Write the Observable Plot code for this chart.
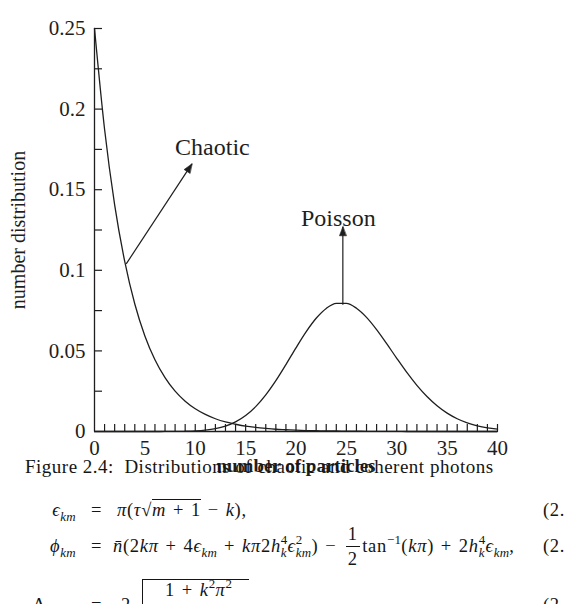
<!DOCTYPE html>
<html>
<head>
<meta charset="utf-8">
<script src="https://cdn.jsdelivr.net/npm/d3@7"></script>
<script src="https://cdn.jsdelivr.net/npm/@observablehq/plot@0.6"></script>
<style>
  html, body { margin: 0; padding: 0; background: #fff; }
  #page { position: relative; width: 568px; height: 604px; overflow: hidden; background: #fff; color: #151515; }
  #chart { position: absolute; left: 0; top: 0; }
  .cap { position: absolute; left: 25px; top: 451.6px; font-family: "Liberation Serif", serif; font-size: 19px;
         line-height: 30px; white-space: nowrap; letter-spacing: 0.5px; color: #151515; }
  .eq { position: absolute; white-space: nowrap; font-family: "Liberation Serif", "DejaVu Serif", serif;
        font-size: 18.5px; line-height: 50px; letter-spacing: 0.7px; word-spacing: 1.5px; color: #151515; }
  .eq i { font-style: italic; }
  .sb { font-size: 0.7em; vertical-align: -0.36em; line-height: 0; letter-spacing: 0.3px; }
  .sp { font-size: 0.7em; vertical-align: 0.62em; line-height: 0; letter-spacing: 0.3px; }
  .st { display: inline-block; font-size: 0.7em; line-height: 1em; vertical-align: -0.36em; text-align: left; letter-spacing: 0.3px; }
  .st > span { display: block; }
  .frac { display: inline-block; line-height: 1.3em; vertical-align: -0.68em; text-align: center; margin: 0 0.15em; }
  .frac > span { display: block; padding: 0 0.1em; }
  .frac > .num { border-bottom: 1px solid #151515; }
  .ol { border-top: 1px solid #151515; }
  .rad { position: absolute; border-left: 1.2px solid #151515; border-top: 1px solid #151515; }
</style>
</head>
<body>
<div id="page">
  <div id="chart"></div>
  <div class="cap">Figure 2.4:&nbsp; Distributions of chaotic and coherent photons</div>

  <!-- equation line 1 -->
  <div class="eq" style="right:492px; top:485px;"><i>ϵ</i><span class="sb"><i>km</i></span></div>
  <div class="eq" style="left:91px; top:485px;">=</div>
  <div class="eq" style="left:117px; top:485px;"><i>π</i>(<i>τ</i>√<span class="ol"><i>m</i> + 1</span> − <i>k</i>),</div>
  <div class="eq" style="left:543px; top:485px;">(2.</div>

  <!-- equation line 2 -->
  <div class="eq" style="right:492px; top:521px;"><i>ϕ</i><span class="sb"><i>km</i></span></div>
  <div class="eq" style="left:91px; top:521px;">=</div>
  <div class="eq" style="left:113px; top:521px;"><i>n̄</i>(2<i>kπ</i> + 4<i>ϵ</i><span class="sb"><i>km</i></span> + <i>kπ</i>2<i>h</i><span class="st"><span>4</span><span><i>k</i></span></span><i>ϵ</i><span class="st"><span>2</span><span><i>km</i></span></span>) − <span class="frac"><span class="num">1</span><span>2</span></span>tan<span class="sp">−1</span>(<i>kπ</i>) + 2<i>h</i><span class="st"><span>4</span><span><i>k</i></span></span><i>ϵ</i><span class="sb"><i>km</i></span>,</div>
  <div class="eq" style="left:543px; top:521px;">(2.</div>

  <!-- equation line 3 (cut off by the page edge) -->
  <div class="eq" style="left:33px; top:580px;">Δ<span class="sb"><i>km</i></span></div>
  <div class="eq" style="left:91px; top:580px;">=</div>
  <div class="eq" style="left:121px; top:580px;">2</div>
  <div class="rad" style="left:142px; top:579px; width:106px; height:40px;"></div>
  <div class="eq" style="left:165px; top:565px;">1 + <i>k</i><span class="sp">2</span><i>π</i><span class="sp">2</span></div>
  <div class="eq" style="left:543px; top:580px;">(2.</div>
</div>

<script>
// ---- data ----
const nValues = [0,1,2,3,4,5,6,7,8,9,10,11,12,13,14,15,16,17,18,19,20,
                 21,22,23,24,25,26,27,28,29,30,31,32,33,34,35,36,37,38,39,40];
const chaotic = [0.2500,0.1875,0.1406,0.1055,0.0791,0.0593,0.0445,0.0334,0.0250,0.0188,
                 0.0141,0.0106,0.0079,0.0059,0.0045,0.0033,0.0025,0.0019,0.0014,0.0011,
                 0.0008,0.0006,0.0005,0.0003,0.0003,0.0002,0.0002,0.0001,0.0001,0.0001,
                 0.0001,0,0,0,0,0,0,0,0,0,0];
const poisson = [0,0,0,0,0,0,0,0.00002,0.00005,0.00015,
                 0.00036,0.00083,0.00173,0.00332,0.00593,0.00989,0.01545,0.02273,0.03157,0.04153,
                 0.05192,0.06180,0.07023,0.07634,0.07952,0.07952,0.07646,0.07080,0.06321,0.05449,
                 0.04541,0.03662,0.02861,0.02167,0.01594,0.01138,0.00791,0.00534,0.00351,0.00225,
                 0.00141];

const xTickValues = [0,5,10,15,20,25,30,35,40];
const xMinorTicks = [1,2,3,4,5,6,7,8,9,10,11,12,13,14,15,16,17,18,19,20,
                     21,22,23,24,25,26,27,28,29,30,31,32,33,34,35,36,37,38,39,40];
const yTickValues = [0,0.05,0.1,0.15,0.2,0.25];
const yTickLabels = ["0","0.05","0.1","0.15","0.2","0.25"];
const yMinorTicks = [0.025,0.05,0.075,0.1,0.125,0.15,0.175,0.2,0.225,0.25];

const labelNames = ["Chaotic","Poisson"];
const labelX = [11.7, 24.2];
const labelY = [0.176, 0.132];
const arrowX1 = [3.15, 24.65];
const arrowY1 = [0.104, 0.0787];
const arrowX2 = [9.67, 24.65];
const arrowY2 = [0.166, 0.127];

const xAxisLabel = "number of particles";
const yAxisLabel = "number distribution";

// ---- build tables ----
const chaoticRows = nValues.map((n, i) => ({n, p: chaotic[i]}));
const poissonRows = nValues.map((n, i) => ({n, p: poisson[i]}));
const labels = labelNames.map((t, i) => ({t, x: labelX[i], y: labelY[i]}));

const W = 568, H = 480, mL = 94, mR = 71, mT = 28, mB = 49;
const kx = (W - mL - mR) / 40, ky = (H - mT - mB) / 0.25;
const arrows = arrowX1.map((x1, i) => ({
  x1, y1: arrowY1[i], x2: arrowX2[i], y2: arrowY2[i],
  angle: Math.atan2((arrowX2[i] - x1) * kx, (arrowY2[i] - arrowY1[i]) * ky) * 180 / Math.PI
}));

const ink = "#1e1e1e";
const headShape = {
  draw(context) {
    context.moveTo(0, 0);
    context.lineTo(-3.4, 9);
    context.lineTo(3.4, 9);
    context.closePath();
  }
};

const plot = Plot.plot({
  width: W, height: H,
  marginLeft: mL, marginRight: mR, marginTop: mT, marginBottom: mB,
  x: {domain: [0, 40]},
  y: {domain: [0, 0.25]},
  style: {fontFamily: "Liberation Serif, serif", fontSize: "21px", color: ink, background: "transparent"},
  marks: [
    Plot.axisX(xTickValues, {tickSize: 0, tickPadding: 9, fontSize: 21, label: null, fill: ink}),
    Plot.axisY(yTickValues, {tickSize: 0, tickPadding: 9, fontSize: 21, label: null, fill: ink,
      tickFormat: d => yTickLabels[yTickValues.indexOf(d)]}),
    Plot.ruleY([0], {stroke: ink, strokeWidth: 1.3}),
    Plot.ruleX([0], {stroke: ink, strokeWidth: 1.3}),
    Plot.tickX(xMinorTicks, {x: d => d, insetTop: (H - mT - mB) - 7, stroke: ink, strokeWidth: 1.2}),
    Plot.tickY(yMinorTicks, {y: d => d, insetRight: (W - mL - mR) - 8, stroke: ink, strokeWidth: 1.2}),
    Plot.line(chaoticRows, {x: "n", y: "p", curve: "monotone-x", stroke: ink, strokeWidth: 1.3}),
    Plot.line(poissonRows, {x: "n", y: "p", curve: "monotone-x", stroke: ink, strokeWidth: 1.3}),
    Plot.link(arrows, {x1: "x1", y1: "y1", x2: "x2", y2: "y2", stroke: ink, strokeWidth: 1.2}),
    Plot.vector(arrows, {x: "x2", y: "y2", rotate: "angle", length: 9, anchor: "start",
      shape: headShape, fill: ink, stroke: ink, strokeWidth: 0.6}),
    Plot.text(labels, {x: "x", y: "y", text: "t", fontSize: 24, fill: ink}),
    Plot.text([yAxisLabel], {text: d => d, frameAnchor: "left", textAnchor: "middle", dx: -76, rotate: -90,
      fontSize: 20, fill: ink}),
    Plot.text([xAxisLabel], {text: d => d, frameAnchor: "bottom", dy: 40, fontSize: 19, fontWeight: "bold", fill: ink})
  ]
});
document.getElementById("chart").appendChild(plot);
</script>
</body>
</html>
